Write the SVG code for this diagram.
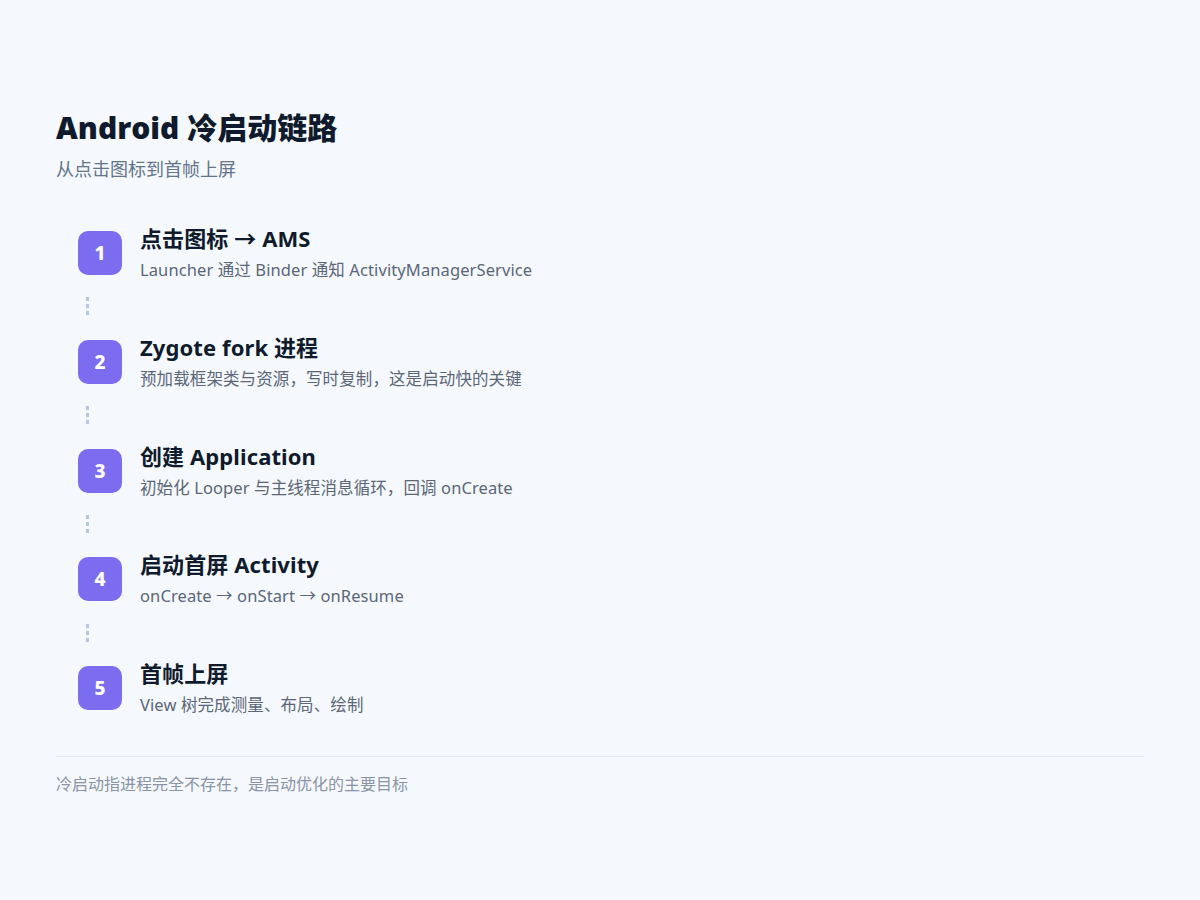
<svg xmlns="http://www.w3.org/2000/svg" width="1200" height="900" viewBox="0 0 1200 900">
<style>
.t{font-family:"Noto Sans","Noto Sans CJK SC",sans-serif}
.h1{font-family:"Open Sans","Noto Sans CJK SC",sans-serif;font-size:30px;font-weight:800;fill:#0f1b2d}
.sub{font-size:18px;fill:#64748b}
.badge{fill:#7c6cf0}
.num{font-size:19px;font-weight:800;fill:#ffffff;text-anchor:middle}
.st{font-size:22px;font-weight:700;fill:#0f1b2d;letter-spacing:0.1px}
.sd{font-size:16.5px;fill:#5b6778;letter-spacing:0.1px}
.conn{stroke:#b6c6dc;stroke-width:3;stroke-dasharray:4 3;fill:none}
.foot{font-size:16px;fill:#8a94a6}
</style>
<rect width="1200" height="900" fill="#f5f8fc"/>
<g id="header">
<text class="t h1" x="56" y="139">Android 冷启动链路</text>
<text class="t sub" x="56" y="176">从点击图标到首帧上屏</text>
</g>
<g id="connectors">
<line class="conn" x1="87.5" y1="297" x2="87.5" y2="318"/>
<line class="conn" x1="87.5" y1="406" x2="87.5" y2="427"/>
<line class="conn" x1="87.5" y1="515" x2="87.5" y2="536"/>
<line class="conn" x1="87.5" y1="624" x2="87.5" y2="645"/>
</g>
<g id="step1">
<rect class="badge" x="78" y="231" width="44" height="44" rx="10"/>
<text class="t num" x="100" y="260">1</text>
<text class="t st" x="140" y="247">点击图标 → AMS</text>
<text class="t sd" x="140" y="276">Launcher 通过 Binder 通知 ActivityManagerService</text>
</g>
<g id="step2">
<rect class="badge" x="78" y="340" width="44" height="44" rx="10"/>
<text class="t num" x="100" y="369">2</text>
<text class="t st" x="140" y="356">Zygote fork 进程</text>
<text class="t sd" x="140" y="385">预加载框架类与资源，写时复制，这是启动快的关键</text>
</g>
<g id="step3">
<rect class="badge" x="78" y="449" width="44" height="44" rx="10"/>
<text class="t num" x="100" y="478">3</text>
<text class="t st" x="140" y="465">创建 Application</text>
<text class="t sd" x="140" y="494">初始化 Looper 与主线程消息循环，回调 onCreate</text>
</g>
<g id="step4">
<rect class="badge" x="78" y="557" width="44" height="44" rx="10"/>
<text class="t num" x="100" y="586">4</text>
<text class="t st" x="140" y="573">启动首屏 Activity</text>
<text class="t sd" x="140" y="602">onCreate → onStart → onResume</text>
</g>
<g id="step5">
<rect class="badge" x="78" y="666" width="44" height="44" rx="10"/>
<text class="t num" x="100" y="695">5</text>
<text class="t st" x="140" y="682">首帧上屏</text>
<text class="t sd" x="140" y="711">View 树完成测量、布局、绘制</text>
</g>
<g id="footer">
<line x1="56" y1="756.5" x2="1144" y2="756.5" stroke="#e2e8f0" stroke-width="1"/>
<text class="t foot" x="56" y="790">冷启动指进程完全不存在，是启动优化的主要目标</text>
</g>
</svg>
